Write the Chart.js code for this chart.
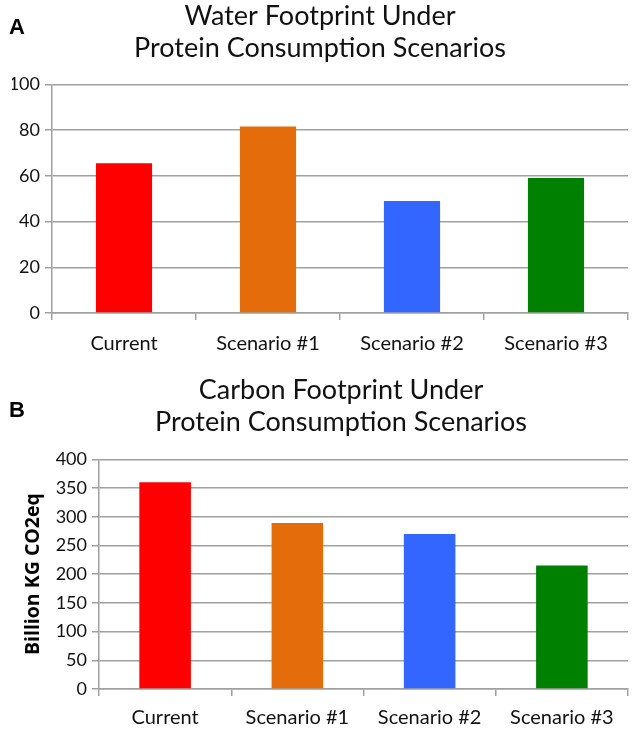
<!DOCTYPE html>
<html lang="en">
<head>
    <meta charset="UTF-8">
    <title>Footprint Under Protein Consumption Scenarios</title>
<script src="https://cdn.jsdelivr.net/npm/chart.js"></script>
<style>
  body { margin: 0; background: #fff; }
  .wrap { position: relative; width: 633px; height: 730px; }
  .box { position: absolute; left: 0; width: 633px; height: 365px; }
  .panel { position: absolute; font-family: "Liberation Sans", Arial, sans-serif; font-weight: bold; font-size: 22px; line-height: 25px; color: #000; }
</style>
</head>
<body>
<div class="wrap">
  <div class="box" style="top:0"><canvas id="waterChart" width="633" height="365"></canvas></div>
  <div class="box" style="top:365px"><canvas id="carbonChart" width="633" height="365"></canvas></div>
  <div class="panel" style="left:9px; top:14px">A</div>
  <div class="panel" style="left:9px; top:397px">B</div>
</div>
<script>
// data
var scenarios = ['Current', 'Scenario #1', 'Scenario #2', 'Scenario #3'];
var barColors = ['#ff0000', '#e46c0a', '#3366ff', '#008000'];
var waterVals = [65.5, 81.5, 49, 59];
var carbonVals = [360, 289, 270, 215];
var waterTitle = ['Water Footprint Under', 'Protein Consumption Scenarios'];
var carbonTitle = ['Carbon Footprint Under', 'Protein Consumption Scenarios'];
var carbonAxisTitle = 'Billion KG CO2eq';

var FONT = 'Lato, "Open Sans", sans-serif';
var GRID = '#a0a0a0';

Chart.defaults.animation = false;

// o: per chart layout bits (padding, axis sizes)
function makeChart(id, vals, title, yMax, yStep, o) {
  var yScale = {
    min: 0,
    max: yMax,
    ticks: { stepSize: yStep, padding: 5, font: { family: FONT, size: 18 }, color: '#111' },
    grid: { color: GRID, lineWidth: 1.5, tickLength: 7, tickColor: GRID },
    border: { color: GRID, width: 1.5 },
    afterFit: function(scale) { scale.width = o.yWidth; }
  };
  if (o.yTitle) {
    yScale.title = {
      display: true,
      text: o.yTitle,
      color: '#000',
      font: { family: '"Open Sans", sans-serif', size: 19.5, weight: 'bold' },
      padding: { top: o.yTitlePad, bottom: 0 }
    };
  }
  return new Chart(document.getElementById(id), {
    type: 'bar',
    data: {
      labels: scenarios,
      datasets: [{
        data: vals,
        backgroundColor: barColors,
        borderWidth: 0,
        categoryPercentage: 1,
        barPercentage: 0.39
      }]
    },
    options: {
      responsive: false,
      layout: { padding: { left: o.padLeft, right: 5, top: 0, bottom: 0 } },
      plugins: {
        legend: { display: false },
        tooltip: { enabled: false },
        title: {
          display: true,
          text: title,
          color: '#111',
          font: { family: FONT, size: 27, weight: 'normal', lineHeight: 1.19 },
          padding: { top: o.titleTop, bottom: o.titleBottom }
        }
      },
      scales: {
        x: {
          ticks: { padding: o.xPad, font: { family: FONT, size: 20 }, color: '#111' },
          grid: { offset: true, drawOnChartArea: false, color: GRID, lineWidth: 1.5, tickLength: 7 },
          border: { color: GRID, width: 1.5 },
          afterFit: function(scale) { scale.height = o.xHeight; }
        },
        y: yScale
      }
    }
  });
}

var waterChart = makeChart('waterChart', waterVals, waterTitle, 100, 20, {
  padLeft: 12, yWidth: 40, titleTop: 0, titleBottom: 20, xPad: 12, xHeight: 52
});
var carbonChart = makeChart('carbonChart', carbonVals, carbonTitle, 400, 50, {
  padLeft: 54, yWidth: 45, titleTop: 9, titleBottom: 21, xPad: 10, xHeight: 41,
  yTitle: carbonAxisTitle, yTitlePad: -32
});
</script>
</body>
</html>
